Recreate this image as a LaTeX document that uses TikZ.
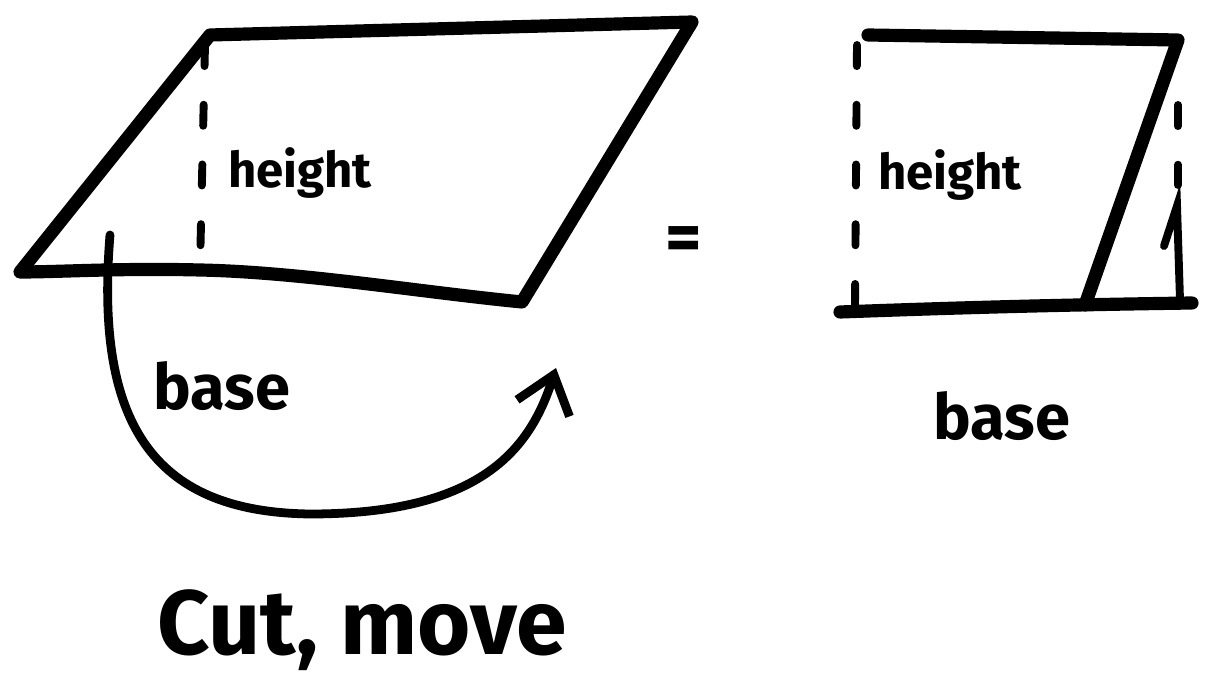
\documentclass[tikz,border=0pt]{standalone}
\usepackage{fontspec}
\setmainfont{Fira Sans}
\usepackage{tikz}
\usetikzlibrary{arrows.meta,positioning,calc}

\begin{document}
\begin{tikzpicture}[
    x=0.02cm, y=-0.02cm,
    edge/.style={line width=7.5pt, line cap=round, line join=round},
    dots/.style={line width=4.5pt, line cap=round, dash pattern=on 12pt off 22pt},
    curve/.style={line width=5pt, line cap=round, -{Straight Barb[length=7mm,width=11mm,line width=5pt]}},
    hand/.style={font=\bfseries\fontsize{#1}{#1}\selectfont, inner sep=0pt, anchor=base}
]
    \useasboundingbox (0,0) rectangle (1221,685);

    % sheared figure
    \draw[edge] (210,35) -- (692,22) -- (522,302)
        .. controls (420,292) and (300,272) .. (200,270)
        .. controls (120,268) and (60,272) .. (20,272) -- cycle;
    \draw[dots] (205,45) -- (200,268);

    % the piece that is cut off and moved
    \coordinate (cutstart) at (110,235);
    \coordinate (cutend) at (556,368);
    \draw[curve] (cutstart) .. controls (95,420) and (150,512) .. (310,514)
        .. controls (480,514) and (530,450) .. (cutend);

    \node[hand=28] (hleft) at (300,188) {height};
    \node[hand=36] (bleft) at (222,410) {base};
    \node[hand=52] (cutmove) at (362,655) {Cut, move};

    % equals sign
    \node[hand=40] (eq) at (684,262) {=};

    % rectangle
    \draw[edge] (868,35) -- (1178,40) -- (1085,305);
    \draw[edge] (840,312) .. controls (950,308) and (1050,305) .. (1192,303);
    \draw[dots] (857,45) -- (855,305);
    \draw[dots] (1178,105) -- (1178,185);
    \draw[dots, solid] (1164,246) -- (1177,206) -- (1180,300);

    \node[hand=28] (hright) at (950,190) {height};
    \node[hand=36] (bright) at (1002,440) {base};
\end{tikzpicture}
\end{document}
